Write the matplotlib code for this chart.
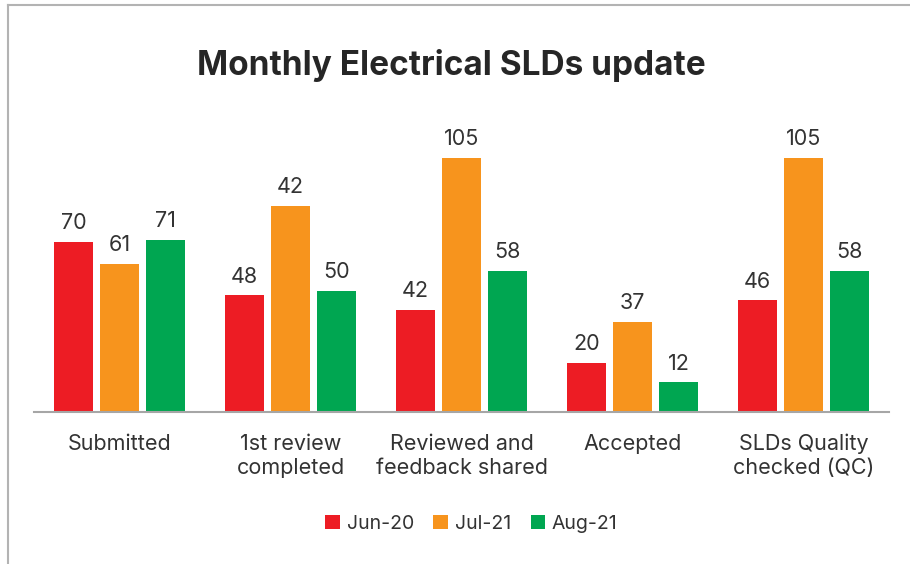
import matplotlib
matplotlib.use("Agg")
import matplotlib.pyplot as plt
import numpy as np
from matplotlib.lines import Line2D

categories = ["Submitted", "1st review\ncompleted", "Reviewed and\nfeedback shared",
              "Accepted", "SLDs Quality\nchecked (QC)"]
series_names = ["Jun-20", "Jul-21", "Aug-21"]
jun_values = [70, 48, 42, 20, 46]
jul_values = [61, 85, 105, 37, 105]
aug_values = [71, 50, 58, 12, 58]
jun_labels = ["70", "48", "42", "20", "46"]
jul_labels = ["61", "42", "105", "37", "105"]
aug_labels = ["71", "50", "58", "12", "58"]
colors = ["#ED1C24", "#F7941D", "#00A651"]

plt.rcParams['font.family'] = ['Inter', 'DejaVu Sans']
W, H = 910, 564
fig = plt.figure(figsize=(W / 100, H / 100), dpi=100)

left, right = 34 / W, 889 / W
bottom = (H - 411.5) / H
ymax = 120
top_px = 411.5 - ymax * 2.419
ax = fig.add_axes([left, bottom, right - left, (411.5 - top_px) / H])

x = np.arange(len(categories))
bw = 0.228
step = 0.269
values = [jun_values, jul_values, aug_values]
labels = [jun_labels, jul_labels, aug_labels]
handles = []
for i, (vals, labs, c, name) in enumerate(zip(values, labels, colors, series_names)):
    pos = x + (i - 1) * step
    bars = ax.bar(pos, vals, width=bw, color=c, label=name)
    handles.append(bars)
    for p, v, l in zip(pos, vals, labs):
        ax.text(p, v + 3.6, l, ha='center', va='bottom', fontsize=15.5, color='#333333')

ax.set_xlim(-0.5, len(categories) - 0.5)
ax.set_ylim(0, ymax)
for s in ['top', 'right', 'left']:
    ax.spines[s].set_visible(False)
ax.spines['bottom'].set_color('#a6a6a6')
ax.spines['bottom'].set_linewidth(1.5)
ax.set_yticks([])
ax.set_xticks(x)
ax.set_xticklabels(categories, fontsize=15.5, color='#333333', linespacing=1.25)
ax.tick_params(axis='x', length=0, pad=16)

fig.text(451 / W, 1 - 65 / H, "Monthly Electrical SLDs update", ha='center', va='center',
         fontsize=24, fontweight='bold', color='#262626')

leg = fig.legend(handles=handles, labels=series_names, loc='center',
                 bbox_to_anchor=(471.5 / W, 1 - 524 / H), ncol=3, frameon=False,
                 fontsize=14, handlelength=0.75, handleheight=0.75, handletextpad=0.35,
                 columnspacing=1.0, labelcolor='#333333')

# figure border (top and left visible)
fig.add_artist(Line2D([7.5 / W, 7.5 / W], [0, 1 - 5 / H], color='#b3b3b3', lw=1.5,
                      transform=fig.transFigure))
fig.add_artist(Line2D([7.5 / W, 1], [1 - 5 / H, 1 - 5 / H], color='#b3b3b3', lw=1.5,
                      transform=fig.transFigure))

fig.savefig("out.png", dpi=100)
